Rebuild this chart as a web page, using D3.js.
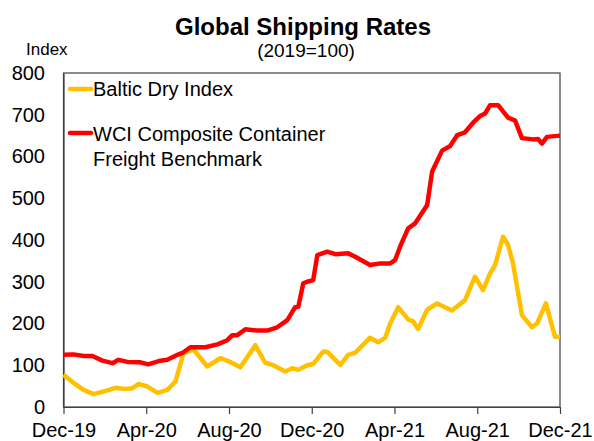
<!DOCTYPE html>
<html><head><meta charset="utf-8">
<script src="https://cdn.jsdelivr.net/npm/d3@7"></script>
<style>body{margin:0;background:#fff}svg{display:block;font-family:"Liberation Sans",Arial,sans-serif}</style>
</head><body><svg id="c" width="594" height="441"></svg>
<script>
// months since Dec-2019
const bdiMonths = [0,0.48,0.97,1.45,1.93,2.51,2.99,3.33,3.62,4.06,4.54,5.02,5.41,5.80,6.28,6.95,7.58,8.06,8.55,9.27,9.75,10.09,10.72,11.06,11.35,11.78,12.07,12.56,12.75,13.38,13.76,14.10,14.82,15.21,15.55,15.79,16.18,16.66,16.90,17.14,17.58,18.06,18.78,19.41,19.89,20.28,20.62,20.86,21.25,21.49,21.73,22.16,22.65,22.89,23.32,23.76,24.00];
const bdiValues = [77,58,41,31,37,46,43,45,55,49,34,41,61,129,138,97,117,108,95,148,106,101,85,93,89,100,103,133,132,101,125,130,166,155,166,200,239,210,205,187,233,248,231,256,312,280,320,340,408,388,344,220,191,200,248,168,168];
const wciMonths = [0,0.48,0.97,1.40,1.88,2.37,2.66,3.09,3.72,4.10,4.68,5.02,5.51,5.80,6.13,6.86,7.44,7.92,8.16,8.40,8.79,9.37,9.85,10.33,10.82,11.06,11.20,11.35,11.59,11.78,12.07,12.27,12.75,13.14,13.76,14.10,14.82,15.31,15.79,16.03,16.27,16.66,17.00,17.58,17.82,18.30,18.69,19.03,19.41,19.80,20.14,20.38,20.62,21.01,21.49,21.83,22.16,22.70,22.94,23.13,23.37,24.00];
const wciValues = [125,126,122,122,111,105,113,108,107,102,111,113,125,131,143,143,150,160,172,172,186,183,183,191,208,228,239,240,296,300,304,364,372,366,368,360,340,344,344,352,384,428,440,484,564,614,625,651,658,681,697,703,723,723,693,686,644,641,642,631,647,650];
const xTickMonths = [0,4,8,12,16,20,24];
const xTickLabels = ["Dec-19","Apr-20","Aug-20","Dec-20","Apr-21","Aug-21","Dec-21"];
const yTicks = [0,100,200,300,400,500,600,700,800];
const seriesNames = ["Baltic Dry Index", ["WCI Composite Container","Freight Benchmark"]];
const seriesColors = ["#FFC000","#FF0000"];

const svg = d3.select("#c");
const L=63.5, R=560, T=73, B=407;
const x = d3.scaleLinear().domain([0,24]).range([L,R]);
const y = d3.scaleLinear().domain([0,800]).range([B,T]);
const axisColor = "#404040";
const ff = "Liberation Sans, Arial, sans-serif";

// frame
svg.append("rect").attr("x",L).attr("y",T).attr("width",R-L).attr("height",B-T)
  .attr("fill","none").attr("stroke",axisColor).attr("stroke-width",1.2);

const xAxis = svg.append("g").attr("transform",`translate(0,${B})`)
  .call(d3.axisBottom(x).tickValues(xTickMonths).tickFormat((d,i)=>xTickLabels[i]).tickSizeInner(7).tickSizeOuter(0).tickPadding(9));
xAxis.select(".domain").attr("stroke",axisColor).attr("stroke-width",1.2);
xAxis.selectAll(".tick line").attr("stroke",axisColor).attr("stroke-width",1.2);
xAxis.selectAll("text").attr("font-size",20).attr("fill","#000").attr("font-family",ff);

const yAxis = svg.append("g").attr("transform",`translate(${L},0)`)
  .call(d3.axisLeft(y).tickValues(yTicks).tickSize(0).tickPadding(18.5));
yAxis.select(".domain").attr("stroke",axisColor).attr("stroke-width",1.2);
yAxis.selectAll("text").attr("font-size",20).attr("fill","#000").attr("font-family",ff);

const line = d3.line().x(d=>x(d[0])).y(d=>y(d[1]));
const bdi = bdiMonths.map((m,i)=>[m,bdiValues[i]]);
const wci = wciMonths.map((m,i)=>[m,wciValues[i]]);
svg.append("path").datum(bdi).attr("d",line).attr("fill","none")
  .attr("stroke",seriesColors[0]).attr("stroke-width",4.5).attr("stroke-linejoin","round");
svg.append("path").datum(wci).attr("d",line).attr("fill","none")
  .attr("stroke",seriesColors[1]).attr("stroke-width",4.5).attr("stroke-linejoin","round");

// titles
svg.append("text").attr("x",303).attr("y",35).attr("text-anchor","middle")
  .attr("font-size",24).attr("font-weight","bold").text("Global Shipping Rates");
svg.append("text").attr("x",306).attr("y",57).attr("text-anchor","middle")
  .attr("font-size",19).text("(2019=100)");
svg.append("text").attr("x",26).attr("y",55).attr("font-size",17).text("Index");

// legend
const lg = svg.append("g");
[[89,96,0],[133,140.5,1]].forEach(([ly,ty,i])=>{
  lg.append("line").attr("x1",70).attr("x2",91).attr("y1",ly).attr("y2",ly)
    .attr("stroke",seriesColors[i]).attr("stroke-width",4.5).attr("stroke-linecap","round");
  const names = [].concat(seriesNames[i]);
  names.forEach((n,j)=>{
    lg.append("text").attr("x",93).attr("y",ty+j*25).attr("font-size",20).text(n);
  });
});
</script></body></html>
